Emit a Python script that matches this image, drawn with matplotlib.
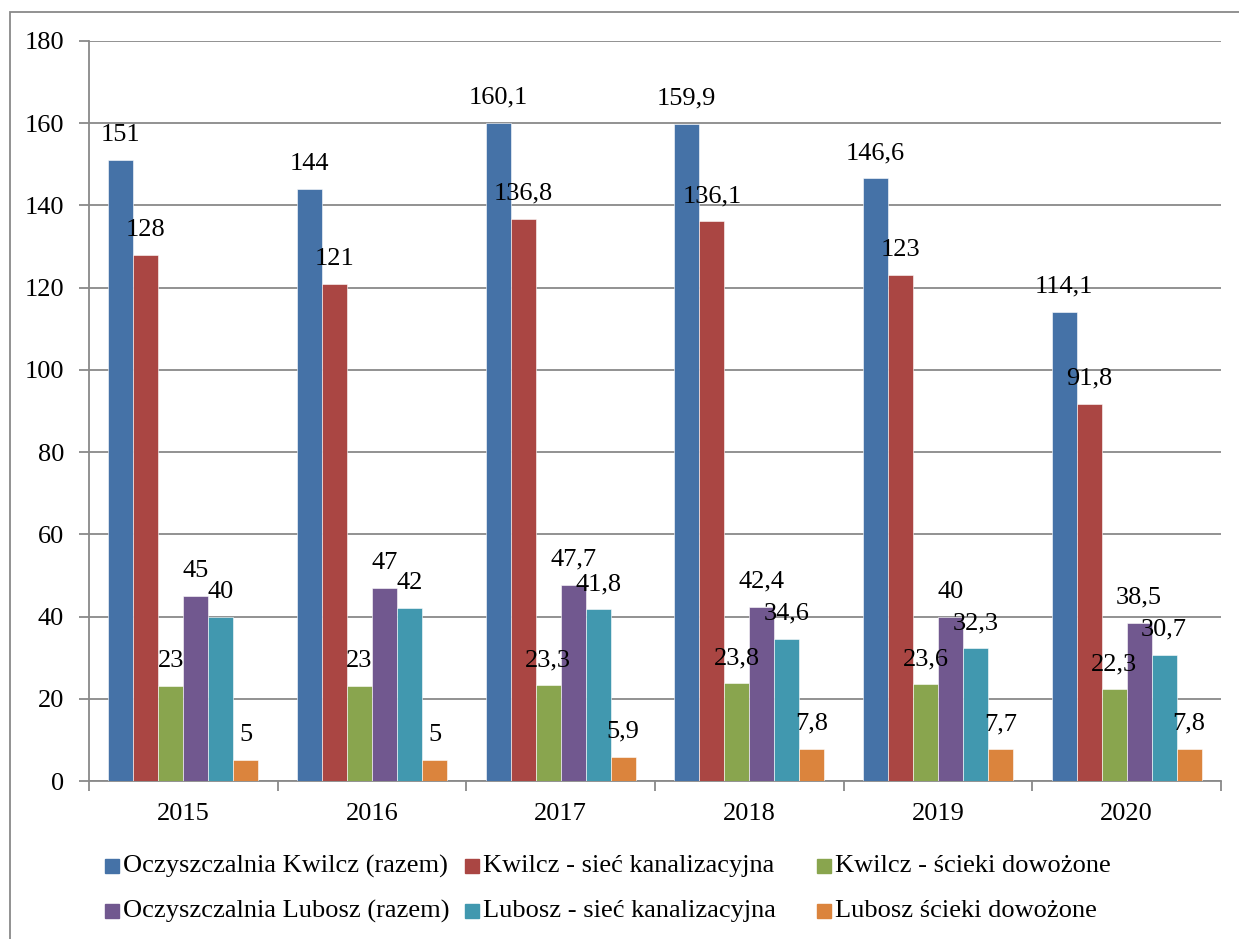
import matplotlib
matplotlib.use("Agg")
import matplotlib.pyplot as plt
from matplotlib.patches import Rectangle
import numpy as np

plt.rcParams['font.family'] = ['Liberation Serif', 'DejaVu Serif']

years = ["2015", "2016", "2017", "2018", "2019", "2020"]
series_names = [
    "Oczyszczalnia Kwilcz (razem)",
    "Kwilcz - sieć kanalizacyjna",
    "Kwilcz - ścieki dowożone",
    "Oczyszczalnia Lubosz (razem)",
    "Lubosz - sieć kanalizacyjna",
    "Lubosz ścieki dowożone",
]
kwilcz_razem = [151, 144, 160.1, 159.9, 146.6, 114.1]
kwilcz_siec = [128, 121, 136.8, 136.1, 123, 91.8]
kwilcz_dowozone = [23, 23, 23.3, 23.8, 23.6, 22.3]
lubosz_razem = [45, 47, 47.7, 42.4, 40, 38.5]
lubosz_siec = [40, 42, 41.8, 34.6, 32.3, 30.7]
lubosz_dowozone = [5, 5, 5.9, 7.8, 7.7, 7.8]
series = [kwilcz_razem, kwilcz_siec, kwilcz_dowozone, lubosz_razem, lubosz_siec, lubosz_dowozone]
colors = ["#4572A7", "#AA4643", "#89A54E", "#71588F", "#4198AF", "#DB843D"]

W, H = 1239, 939
fig = plt.figure(figsize=(W / 100, H / 100), dpi=100)
ax = fig.add_axes([89 / W, 1 - 781 / H, (1221 - 89) / W, (781 - 41) / H])

grey = "#898989"
fs = 19
n = len(series)
bw = 0.1325
x = np.arange(len(years)) + 0.5

def fmt(v):
    s = ("%g" % v)
    return s.replace(".", ",")

for i, (vals, c) in enumerate(zip(series, colors)):
    xs = x + (i - (n - 1) / 2) * bw
    ax.bar(xs, vals, width=bw, color=c, edgecolor="white", linewidth=0.4, zorder=3)
    for xi, v in zip(xs, vals):
        ax.annotate(fmt(v), (xi, v), xytext=(0, 19), textcoords="offset pixels",
                    ha="center", va="baseline", fontsize=fs, color="black", zorder=5)

ax.set_xlim(0, len(years))
ax.set_ylim(0, 180)
ax.set_yticks(np.arange(0, 181, 20))
ax.set_xticks(np.arange(0, len(years) + 1))
ax.set_xticklabels([])
ax.set_xticks(x, minor=True)
ax.set_xticklabels(years, minor=True, fontsize=fs)
ax.tick_params(axis="x", which="major", length=7, color=grey, width=1.3, direction="out")
ax.tick_params(axis="x", which="minor", length=0, pad=16)
ax.tick_params(axis="y", length=7, color=grey, width=1.3, direction="out", pad=11, labelsize=fs)
ax.yaxis.grid(True, color=grey, linewidth=1.3, zorder=0)
ax.set_axisbelow(True)
for s in ["top", "right"]:
    ax.spines[s].set_visible(False)
for s in ["left", "bottom"]:
    ax.spines[s].set_color(grey)
    ax.spines[s].set_linewidth(1.3)

# outer border
fig.patches.append(Rectangle((9.5 / W, -0.05), 1.2, 1 - 12 / H + 0.05, transform=fig.transFigure,
                             fill=False, edgecolor=grey, linewidth=1.3))

# legend
marker_x = [105, 465, 817]
row_y = [866, 911]
for k, (name, c) in enumerate(zip(series_names, colors)):
    r, col = divmod(k, 3)
    mx = marker_x[col]
    yc = row_y[r]
    fig.patches.append(Rectangle((mx / W, 1 - (yc + 7) / H), 14 / W, 14 / H,
                                 transform=fig.transFigure, color=c))
    fig.text((mx + 18) / W, 1 - yc / H, name, fontsize=fs, va="center", ha="left")

fig.savefig("out.png", dpi=100)
